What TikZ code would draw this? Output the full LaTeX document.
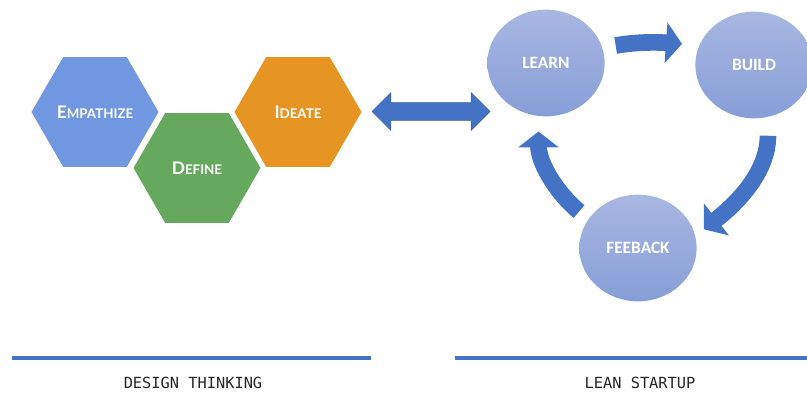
\documentclass[tikz,border=0pt]{standalone}
\usepackage{fontspec}
\newfontfamily\hexfont{Lato}
\newfontfamily\cyclefont{Carlito}
\newfontfamily\labelfont{DejaVu Sans Mono}
\usetikzlibrary{arrows.meta,shapes.geometric,shapes.arrows}
\definecolor{empblue}{RGB}{112,151,224}
\definecolor{defgreen}{RGB}{102,169,94}
\definecolor{ideorange}{RGB}{230,148,34}
\definecolor{cycletop}{RGB}{168,183,225}
\definecolor{cyclebot}{RGB}{134,158,215}
\definecolor{flowblue}{RGB}{68,114,196}
\newcommand\hexcaps[2]{{\fontsize{13}{13}\selectfont #1}{\fontsize{10}{10}\selectfont #2}}

\begin{document}
\begin{tikzpicture}[x=0.75pt,y=0.75pt,
            hexa/.style={regular polygon,regular polygon sides=6,minimum size=95.25pt,
              inner sep=0pt,text=white,font=\hexfont\bfseries},
            stage/.style={ellipse,minimum width=88pt,minimum height=80pt,inner sep=0pt,
              top color=cycletop,bottom color=cyclebot,text=white,
              font=\cyclefont\bfseries\fontsize{13}{13}\selectfont},
            flow/.style={flowblue,line width=12.5pt,-{Triangle[length=12pt,width=30pt]}},
            rule/.style={flowblue,line width=3pt}]
            \useasboundingbox(0,0)rectangle(807,393);
            \node[hexa,fill=empblue](empathize)at(95,281){\hexcaps{E}{MPATHIZE}};
            \node[hexa,fill=defgreen](define)at(197,225){\hexcaps{D}{EFINE}};
            \node[hexa,fill=ideorange](ideate)at(298,281){\hexcaps{I}{DEATE}};
            \node[double arrow,fill=flowblue,draw=flowblue!85!black,line width=0.4pt,
              minimum height=88.5pt,inner xsep=0pt,inner ysep=6.4pt,
              double arrow head extend=7.5pt](link)at(431,281.5){};
            \node[stage](learn)at(546,330){LEARN};
            \node[stage](build)at(754,328){BUILD};
            \node[stage](feeback)at(638,145){FEEBACK};
            \draw[flow,shorten <=10pt,shorten >=13pt](learn.15)to[out=10,in=176](build.160);
            \draw[flow,shorten <=14pt,shorten >=8pt](build.285)to[out=270,in=38](feeback.12);
            \draw[flow,shorten <=9pt,shorten >=11.5pt](feeback.150)to[out=140,in=270](learn.262);
            \draw[rule](12,35)--(371,35);\draw[rule](455,35)--(807,35);
            \node[font=\labelfont\fontsize{11.5}{12}\selectfont,text=black!85](design)at(193,10){DESIGN THINKING};
            \node[font=\labelfont\fontsize{11.5}{12}\selectfont,text=black!85](lean)at(640,10){LEAN STARTUP};
        \end{tikzpicture}
\end{document}
